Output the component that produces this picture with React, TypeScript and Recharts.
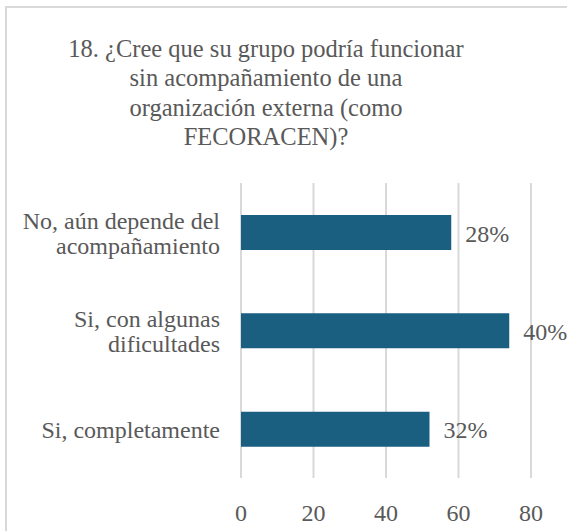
import React from 'react';
import { BarChart, Bar, XAxis, YAxis, CartesianGrid, LabelList } from 'recharts';

const categories = ['No, aún depende del acompañamiento', 'Si, con algunas dificultades', 'Si, completamente'];
const categoryLines = [['No, aún depende del', 'acompañamiento'], ['Si, con algunas', 'dificultades'], ['Si, completamente']];
const values = [58, 74, 52];
const percentLabels = ['28%', '40%', '32%'];
const xTicks = [0, 20, 40, 60, 80];
const titleLines = ['18. ¿Cree que su grupo podría funcionar', 'sin acompañamiento de una', 'organización externa (como', 'FECORACEN)?'];

const data = categories.map((c, i) => ({ name: c, value: values[i], label: percentLabels[i], idx: i }));

const FONT = 'Liberation Serif';
const TEXT = '#595959';
const fs = (size: number) => ({ fontFamily: FONT, fontSize: size });

const YTick = (props: any) => {
  const { y, payload } = props;
  const i = categories.indexOf(payload.value);
  const lines = categoryLines[i] || [payload.value];
  const start = lines.length === 1 ? 9 : -3.5;
  return (
    <text x={220} y={y} textAnchor="end" fill={TEXT} style={fs(24)}>
      {lines.map((l, k) => (
        <tspan key={k} x={220} y={y + start + k * 25}>{l}</tspan>
      ))}
    </text>
  );
};

const XTick = (props: any) => {
  const { x, y, payload } = props;
  return (
    <text x={x} y={y + 35} textAnchor="middle" fill={TEXT} style={fs(24)}>
      {payload.value}
    </text>
  );
};

const ValueLabel = (props: any) => {
  const { x, y, width, height, index } = props;
  return (
    <text x={x + width + 14} y={y + height / 2 + 9} textAnchor="start" fill={TEXT} style={fs(24)}>
      {percentLabels[index]}
    </text>
  );
};

export default function App() {
  return (
    <div style={{ position: 'absolute', left: 0, top: 0, width: 567, height: 531, background: '#fff', overflow: 'hidden', fontFamily: FONT }}>
      <div style={{ position: 'absolute', left: 5, top: 6, width: 570, height: 540, borderLeft: '2px solid #d9d9d9', borderTop: '2px solid #d9d9d9' }} />
      <svg style={{ position: 'absolute', left: 0, top: 0 }} width={567} height={180}>
        {titleLines.map((t, i) => (
          <text key={i} x={266} y={56.5 + i * 29.5} textAnchor="middle" fill={TEXT} style={fs(24.5)}>{t}</text>
        ))}
      </svg>
      <div style={{ position: 'absolute', left: 0, top: 0 }}>
        <BarChart width={567} height={531} data={data} layout="vertical" margin={{ top: 183, right: 36, bottom: 23, left: 0 }}>
          <CartesianGrid horizontal={false} vertical={true} stroke="#d9d9d9" strokeWidth={2} />
          <XAxis type="number" domain={[0, 80]} ticks={xTicks} axisLine={false} tickLine={false} tick={<XTick />} height={30} />
          <YAxis type="category" dataKey="name" width={241} axisLine={false} tickLine={false} tick={<YTick />} interval={0} />
          <Bar dataKey="value" fill="#1a5e80" barSize={35} isAnimationActive={false}>
            <LabelList dataKey="label" content={<ValueLabel />} />
          </Bar>
        </BarChart>
      </div>
    </div>
  );
}
